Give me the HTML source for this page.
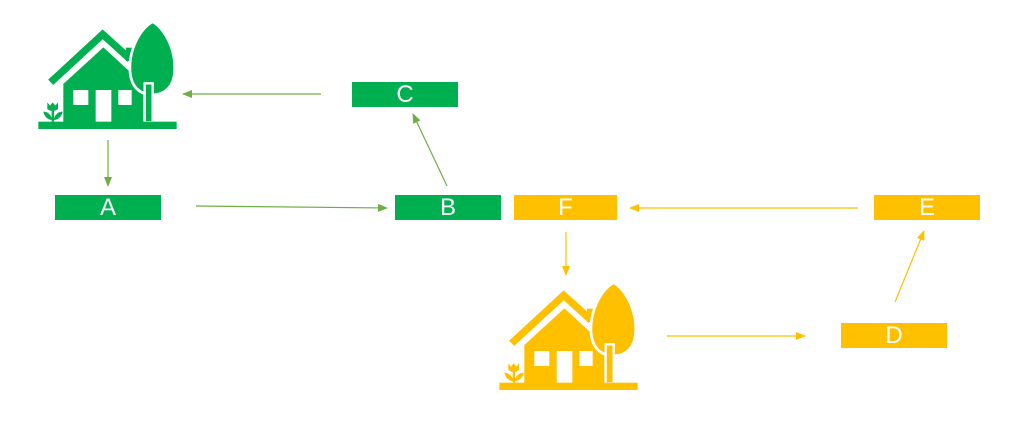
<!DOCTYPE html>
<html><head><style>
body{margin:0;width:1023px;height:421px;background:#fff;position:relative;overflow:hidden;font-family:"Liberation Sans",sans-serif}
.b{position:absolute;height:25px;width:106px;color:#fff;font-size:24px;line-height:26px;text-align:center}
.g{background:#00b050}.y{background:#ffc000}
svg{position:absolute;left:0;top:0}
</style></head><body>
<svg width="1023" height="421">
<defs>
<symbol id="h" viewBox="0 0 480 375">
<polyline points="62,202 218,58 300,132" fill="none" stroke="currentColor" stroke-width="22"/>
<rect x="288" y="98" width="18" height="40" fill="currentColor"/>
<polygon points="100,207 220,97 305,175 340,232 340,322 100,322" fill="currentColor"/>
<rect x="130" y="225" width="45" height="45" fill="#fff"/>
<rect x="197" y="225" width="47" height="97" fill="#fff"/>
<rect x="265" y="225" width="40" height="45" fill="#fff"/>
<path d="M368,20 C402,40 438,100 434,170 C430,218 405,238 368,240 C330,238 304,218 300,170 C296,100 332,40 368,20Z" fill="currentColor" stroke="#fff" stroke-width="8"/>
<rect x="344" y="205" width="24" height="117" fill="currentColor" stroke="#fff" stroke-width="7"/>
<rect x="25" y="320" width="415" height="22" fill="currentColor"/>
<path d="M52,262 l8,10 l8,-10 l8,10 l8,-10 v20 q-16,12 -32,0z" fill="currentColor"/>
<rect x="65" y="280" width="7" height="40" fill="currentColor"/>
<path d="M40,290 q20,0 28,25 q-22,0 -28,-25z M98,290 q-20,0 -28,25 q22,0 28,-25z" fill="currentColor"/>
</symbol>
<marker id="ag" markerWidth="10" markerHeight="8" refX="9" refY="4" orient="auto" markerUnits="userSpaceOnUse"><path d="M0,0 L10,4 L0,8z" fill="#70ad47"/></marker>
<marker id="ay" markerWidth="10" markerHeight="8" refX="9" refY="4" orient="auto" markerUnits="userSpaceOnUse"><path d="M0,0 L10,4 L0,8z" fill="#ffc000"/></marker>
</defs>
<use href="#h" x="30" y="15" width="160" height="125" style="color:#00b050"/>
<use href="#h" x="491" y="276" width="160" height="125" style="color:#ffc000"/>
<g stroke="#70ad47" stroke-width="1.2" marker-end="url(#ag)">
<line x1="321" y1="94" x2="183" y2="94"/>
<line x1="108" y1="140" x2="108" y2="186"/>
<line x1="196" y1="206" x2="387" y2="208"/>
<line x1="447" y1="186" x2="413" y2="114"/>
</g>
<g stroke="#ffc000" stroke-width="1.2" marker-end="url(#ay)">
<line x1="858" y1="208" x2="630" y2="208"/>
<line x1="566" y1="232" x2="566" y2="275"/>
<line x1="667" y1="336" x2="805" y2="336"/>
<line x1="895" y1="302" x2="924" y2="231"/>
</g>
</svg>
<div class="b g" style="left:55px;top:195px">A</div>
<div class="b g" style="left:395px;top:195px">B</div>
<div class="b y" style="left:514px;top:195px;width:103px">F</div>
<div class="b y" style="left:874px;top:195px">E</div>
<div class="b g" style="left:352px;top:82px">C</div>
<div class="b y" style="left:841px;top:323px">D</div>
</body></html>
